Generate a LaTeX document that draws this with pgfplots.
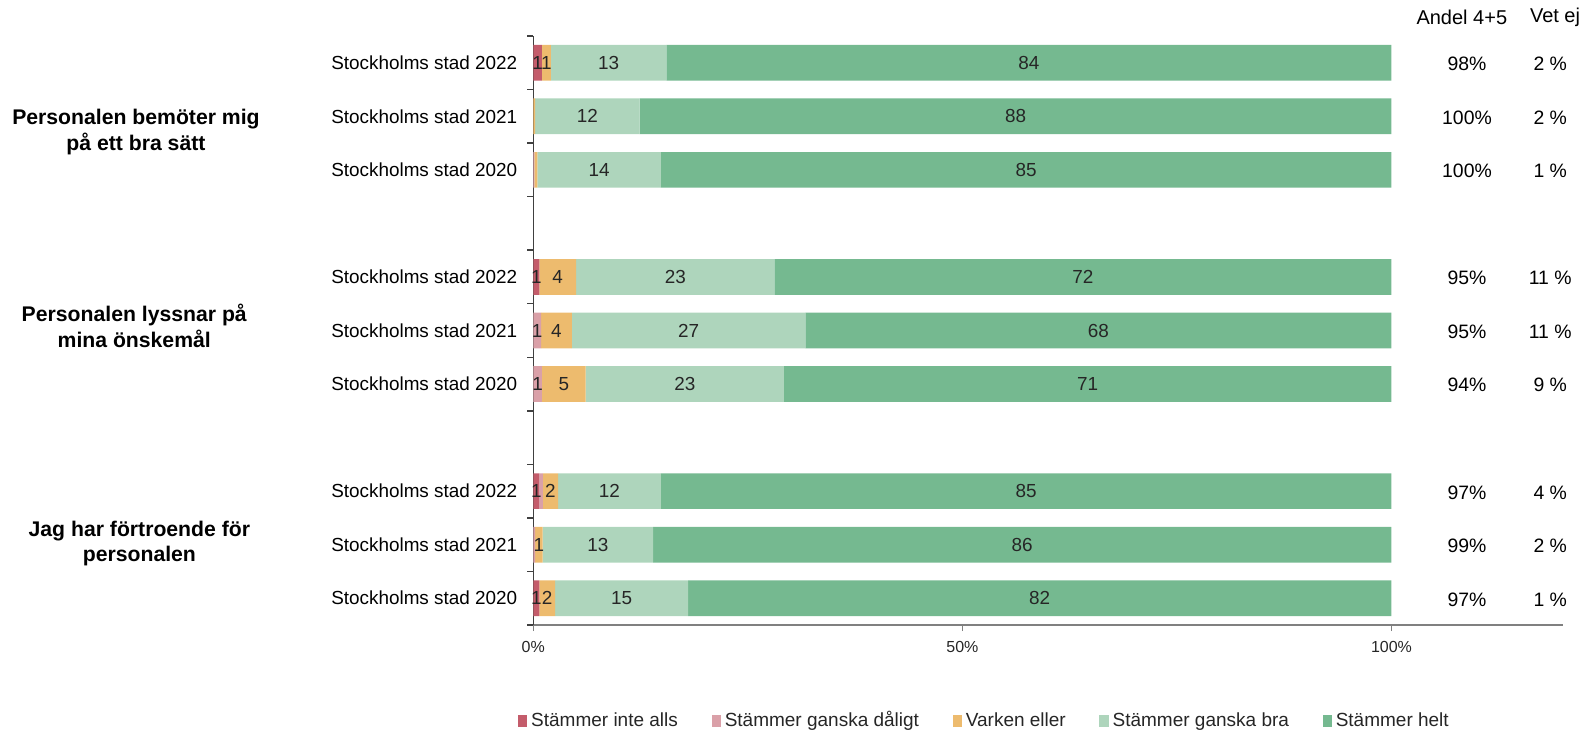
\documentclass[border=0pt]{standalone}
\usepackage{fontspec}
\setmainfont{Liberation Sans}
\usepackage{pgfplots}
\pgfplotsset{compat=1.18}
\usepackage{pgfplotstable}

\definecolor{cRed}{HTML}{C45C6B}
\definecolor{cPink}{HTML}{DAA0A8}
\definecolor{cOrange}{HTML}{EDBB6E}
\definecolor{cLight}{HTML}{AED5BC}
\definecolor{cDark}{HTML}{75B990}
\definecolor{txt}{HTML}{262626}

\newcommand\lab{\fontsize{9.45}{11}\selectfont}

\pgfplotstableread{
y  r    p    o    lg    dg
0  1.0  0    1.05 13.45 84.5
1  0    0    0.2  12.2  87.6
2  0    0.12 0.35 14.4  85.13
4  0.7  0    4.3  23.1  71.9
5  0    0.9  3.6  27.2  68.3
6  0    1.0  5.1  23.1  70.8
8  0.7  0.43 1.75 12.0  85.12
9  0    0.2  0.9  12.85 86.05
10 0.7  0    1.83 15.5  81.97
}\bars

\pgfplotstableread{
y  xc     lab
0  0.5    1
0  1.525  1
0  8.775  13
0  57.75  84
1  6.3    12
1  56.2   88
2  7.67   14
2  57.435 85
4  0.35   1
4  2.85   4
4  16.55  23
4  64.05  72
5  0.45   1
5  2.7    4
5  18.1   27
5  65.85  68
6  0.5    1
6  3.55   5
6  17.65  23
6  64.6   71
8  0.35   1
8  2.005  2
8  8.88   12
8  57.44  85
9  0.65   1
9  7.525  13
9  56.975 86
10 0.35   1
10 1.615  2
10 10.28  15
10 59.015 82
}\labels

\pgfplotstableread{
y  andel vetej name
0  98    2     {Stockholms stad 2022}
1  100   2     {Stockholms stad 2021}
2  100   1     {Stockholms stad 2020}
4  95    11    {Stockholms stad 2022}
5  95    11    {Stockholms stad 2021}
6  94    9     {Stockholms stad 2020}
8  97    4     {Stockholms stad 2022}
9  99    2     {Stockholms stad 2021}
10 97    1     {Stockholms stad 2020}
}\side

\pgfplotsset{
  seg/.style={fill=#1, draw=none,
    legend image code/.code={\fill[fill=#1] (0pt,-2.9pt) rectangle (4.6pt,2.9pt);}},
  base/.style={
    at={(0,0)}, anchor=south west, scale only axis,
    width=514.9pt, height=294.5pt,
    xmin=0, xmax=120, ymin=-0.5, ymax=10.5, y dir=reverse,
  }
}

\begin{document}
\begin{tikzpicture}
\begin{axis}[base,
  xbar stacked, bar width=17.85pt,
  axis x line*=bottom, axis y line*=left,
  x axis line style={gray, line width=0.7pt},
  y axis line style={black!75, line width=0.7pt},
  tick align=outside, major tick length=3pt,
  xtick={0,50,100}, xticklabels={0\%,50\%,100\%},
  xticklabel style={font=\fontsize{8}{9.6}\selectfont, text=txt, yshift=-1.5pt},
  x tick style={gray, line width=0.7pt},
  ytick={-0.5,0.5,...,10.5}, yticklabels={},
  y tick style={black!75, line width=0.7pt},
  legend style={at={(0.439,-0.1625)}, anchor=center, draw=none,
    font=\fontsize{9.5}{11}\selectfont, text=txt,
    legend columns=5,
    /tikz/every even column/.append style={column sep=14.8pt},
    /tikz/every odd column/.append style={column sep=0pt}},
]
\addplot[seg=cRed] table[x=r, y=y]{\bars};
\addplot[seg=cPink] table[x=p, y=y]{\bars};
\addplot[seg=cOrange] table[x=o, y=y]{\bars};
\addplot[seg=cLight] table[x=lg, y=y]{\bars};
\addplot[seg=cDark] table[x=dg, y=y]{\bars};
\legend{Stämmer inte alls, Stämmer ganska dåligt, Varken eller, Stämmer ganska bra, Stämmer helt}
\end{axis}

\begin{axis}[base, hide axis, clip=false]
\addplot[draw=none, mark=none, nodes near coords, point meta=explicit symbolic,
  every node near coord/.append style={anchor=center, font=\lab, text=txt, inner sep=0pt}]
  table[x=xc, y=y, meta=lab]{\labels};
\addplot[draw=none, mark=none, nodes near coords, point meta=explicit symbolic,
  every node near coord/.append style={anchor=east, font=\lab, text=black, xshift=-4.5pt}]
  table[x expr=0, y=y, meta=name]{\side};
\addplot[draw=none, mark=none, nodes near coords={\pgfplotspointmeta\%}, point meta=explicit symbolic,
  every node near coord/.append style={anchor=center, font=\fontsize{9.7}{11}\selectfont, text=black, yshift=-0.6pt}]
  table[x expr=108.8, y=y, meta=andel]{\side};
\addplot[draw=none, mark=none, nodes near coords={\pgfplotspointmeta\ \%}, point meta=explicit symbolic,
  every node near coord/.append style={anchor=center, font=\fontsize{9.7}{11}\selectfont, text=black, yshift=-0.6pt}]
  table[x expr=118.5, y=y, meta=vetej]{\side};
\node[font=\fontsize{10}{12}\selectfont, anchor=center] at (axis cs:108.2,-0.84) {Andel 4+5};
\node[font=\fontsize{10}{12}\selectfont, anchor=west, inner sep=0pt] at (axis cs:116.1,-0.84) {Vet ej};
\node[font=\bfseries\fontsize{10.6}{12.9}\selectfont, align=center] at (axis cs:-46.3,1.3) {Personalen bemöter mig\\på ett bra sätt};
\node[font=\bfseries\fontsize{10.6}{12.9}\selectfont, align=center] at (axis cs:-46.5,4.92) {Personalen lyssnar på\\mina önskemål};
\node[font=\bfseries\fontsize{10.6}{12.9}\selectfont, align=center] at (axis cs:-45.9,8.98) {Jag har förtroende för\\personalen};
\end{axis}
\pgfresetboundingbox
\useasboundingbox (-266.65pt,-53.6pt) rectangle (527.85pt,312.5pt);
\end{tikzpicture}
\end{document}
